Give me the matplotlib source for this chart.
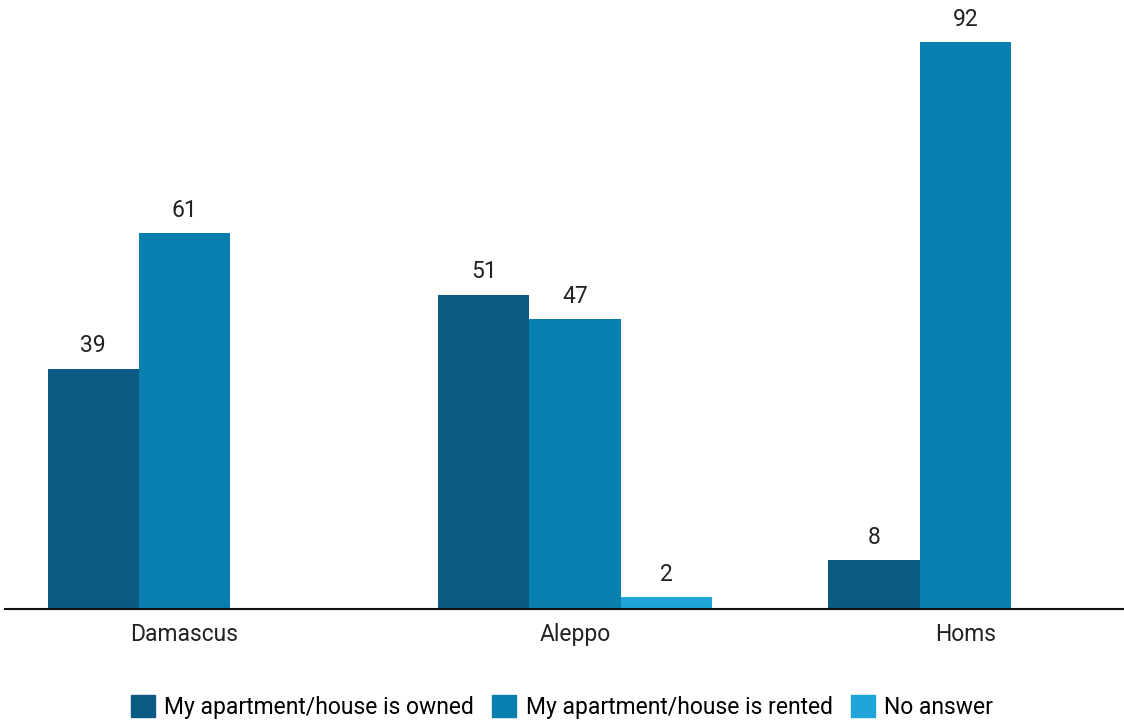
import numpy as np
import matplotlib.pyplot as plt
from matplotlib.patches import Patch

plt.rcParams['font.family'] = ['Roboto', 'DejaVu Sans']

# data
cities = ['Damascus', 'Aleppo', 'Homs']
owned = [39, 51, 8]
rented = [61, 47, 92]
no_answer = [None, 2, None]

c_owned = '#0b5a84'
c_rented = '#087fae'
c_none = '#1fa5d8'

fig = plt.figure(figsize=(11.24, 7.22), dpi=100)
ax = fig.add_axes([5 / 1124, 113 / 722, 1 - 5 / 1124, 1 - 113 / 722 - 11 / 722])

x = np.arange(len(cities))
w = 0.234

def draw(offset, vals, color):
    for xi, v in zip(x, vals):
        if v is None:
            continue
        ax.bar(xi + offset, v, w, color=color, linewidth=0)
        ax.annotate(str(v), (xi + offset, v), xytext=(0, 8), textcoords='offset points',
                    ha='center', va='bottom', fontsize=16.5, color='#222222')

draw(-w, owned, c_owned)
draw(0, rented, c_rented)
draw(w, no_answer, c_none)

ax.set_xlim(-0.46, 2.406)
ax.set_ylim(0, 97)
ax.set_xticks(x)
ax.set_xticklabels(cities, fontsize=16.5, color='#222222')
ax.tick_params(axis='x', length=0, pad=10)
ax.set_yticks([])
for s in ['top', 'right', 'left']:
    ax.spines[s].set_visible(False)
ax.spines['bottom'].set_linewidth(1.5)
ax.spines['bottom'].set_color('#111111')

handles = [Patch(color=c_owned, label='My apartment/house is owned'),
           Patch(color=c_rented, label='My apartment/house is rented'),
           Patch(color=c_none, label='No answer')]
fig.legend(handles=handles, loc='center', bbox_to_anchor=(0.5, 1 - 707 / 722), ncol=3,
           frameon=False, fontsize=16.5, handlelength=1.05, handleheight=1.05,
           handletextpad=0.4, columnspacing=0.8)

plt.savefig('out.png', dpi=100)
